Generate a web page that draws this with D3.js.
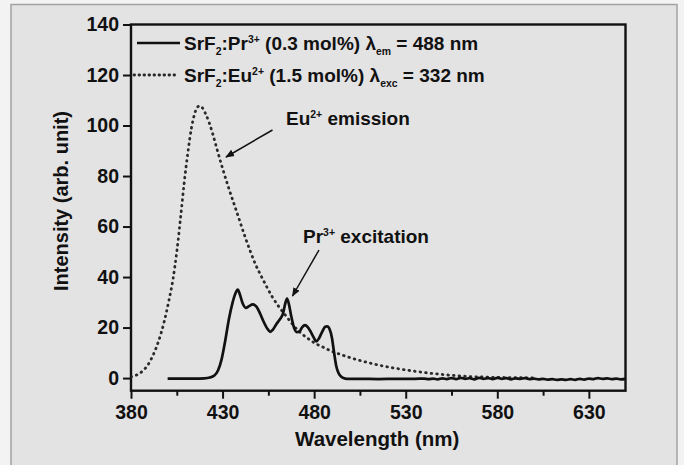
<!DOCTYPE html>
<html>
<head>
<meta charset="utf-8">
<script src="https://cdn.jsdelivr.net/npm/d3@7/dist/d3.min.js"></script>
<style>
  html, body { margin: 0; padding: 0; background: #f3f3f3; }
  svg { display: block; }
  text { font-family: "Liberation Sans", Arial, sans-serif; font-weight: bold; fill: #111; }
</style>
</head>
<body>
<svg id="chart" width="684" height="465"></svg>
<script>
// Pr3+ excitation spectrum (monitored at 488 nm)
const prWavelength = [400, 405, 410, 415, 420, 423, 425.5, 427.5, 429.5, 431.5, 433.5, 435.5, 437, 438.3, 439.5, 441, 442.7, 444.5, 446.5, 448.5, 450.5, 452.5, 454.5, 456, 457.5, 459.5, 461.5, 463, 464.2, 465.2, 466.3, 467.5, 469, 470.5, 472, 473.5, 475, 476.5, 478, 479.8, 481.2, 482.7, 484.5, 486, 487.2, 488.5, 489.7, 490.8, 492, 493.3, 494.7, 496, 498, 505, 515, 525, 535,
  540, 542.5, 545, 547.5, 550, 552.5, 555, 557.5, 560, 562.5, 565, 567.5, 570, 572.5, 575, 577.5, 580, 582.5, 585, 587.5, 590, 592.5, 595, 597.5, 600, 602.5, 605, 607.5, 610, 612.5, 615, 617.5, 620, 622.5, 625, 627.5, 630, 632.5, 635, 637.5, 640, 642.5, 645, 647.5, 650];
const prIntensity = [-0.2, -0.2, -0.2, -0.2, -0.1, 0.2, 1.0, 3.0, 7.5, 15, 23.5, 30, 33.5, 35, 33, 29.5, 27.8, 28.5, 29.2, 28.3, 25.5, 22.2, 19.5, 18.3, 19.2, 21.5, 23.5, 25.5, 29.5, 31.5, 29, 24.5, 20, 18.2, 18.5, 20.2, 21, 20.2, 18.5, 16, 14.5, 15.8, 18.5, 20.3, 20.5, 19.2, 16, 10.5, 5, 2, 0.6, 0, -0.3, -0.3, -0.4, -0.3, -0.3,
  -0.2, -0.4, -0.2, -0.5, -0.1, -0.4, 0.0, -0.4, 0.1, -0.3, 0.0, -0.5, 0.1, -0.3, 0.0, -0.4, 0.1, -0.3, 0.0, -0.5, -0.1, -0.3, 0.0, -0.4, -0.2, -0.5, -0.3, -0.6, -0.4, -0.7, -0.5, -0.7, -0.4, -0.7, -0.3, -0.6, -0.2, -0.4, 0.0, -0.3, -0.1, -0.4, -0.2, -0.5, -0.3];

// Eu2+ emission spectrum (excited at 332 nm)
const euWavelength = [380, 383, 386, 389, 392, 395, 398, 400.5, 403, 405, 407, 409, 411, 413, 414.5, 416, 417.5, 419, 420.5, 422.5, 424.5, 427, 430, 433, 436, 439, 442, 445, 448, 451, 454, 457, 460, 464, 468, 472, 476, 480, 485, 490, 495, 500, 508, 516, 525, 535, 545, 555, 565, 575, 585, 600];
const euIntensity = [0.5, 1.2, 2.6, 5.0, 9.0, 14.5, 22, 30, 39.5, 50, 63, 77, 89, 99, 104, 107, 107.8, 107, 105, 101.5, 97, 90.5, 83, 76, 69.5, 63, 56.5, 50.5, 45, 40.5, 36.3, 32.3, 29, 25.2, 21.5, 18.3, 16, 14, 12.2, 10.5, 9.2, 8.0, 6.4, 5.0, 3.8, 2.7, 1.8, 1.1, 0.6, 0.35, 0.2, 0.1];

const xTicks = [380, 430, 480, 530, 580, 630];
const xMinorTicks = [405, 455, 505, 555, 605];
const yTicks = [0, 20, 40, 60, 80, 100, 120, 140];

const svg = d3.select("#chart");
const W = 684, H = 465;
const plot = { left: 131, right: 625.5, top: 24.5, bottom: 390.7 };

// page frame
svg.append("rect").attr("x", 0).attr("y", 0).attr("width", W).attr("height", H).attr("fill", "#f3f3f3");
svg.append("rect").attr("x", 11).attr("y", 4.5).attr("width", 666).attr("height", H + 10)
  .attr("fill", "#e4e3e4").attr("stroke", "#a3a3a3").attr("stroke-width", 1.5);

const x = d3.scaleLinear().domain([380, 650]).range([plot.left, plot.right]);
const y = d3.scaleLinear().domain([-5, 140]).range([plot.bottom, plot.top]);

// axes
const xAxis = d3.axisBottom(x).tickValues(xTicks).tickSize(8).tickPadding(6).tickFormat(d3.format("d"));
svg.append("g").attr("transform", `translate(0,${plot.bottom})`).call(xAxis);
svg.append("g").attr("transform", `translate(0,${plot.bottom})`)
  .call(d3.axisBottom(x).tickValues(xMinorTicks).tickSize(5).tickFormat(""))
  .call(g => g.select(".domain").remove());

const yAxis = d3.axisLeft(y).tickValues(yTicks).tickSize(8).tickPadding(4).tickFormat(d3.format("d"));
svg.append("g").attr("transform", `translate(${plot.left},0)`).call(yAxis);

svg.selectAll(".tick line").attr("stroke", "#111").attr("stroke-width", 2);
svg.selectAll(".domain").remove();
svg.selectAll(".tick text").attr("font-size", 19.5).attr("font-family", "Liberation Sans, Arial, sans-serif")
  .attr("font-weight", "bold").attr("fill", "#111");

// plot frame
svg.append("rect").attr("x", plot.left).attr("y", plot.top)
  .attr("width", plot.right - plot.left).attr("height", plot.bottom - plot.top)
  .attr("fill", "none").attr("stroke", "#111").attr("stroke-width", 2.4);

// curves, clipped to the plot area
svg.append("clipPath").attr("id", "plotclip").append("rect")
  .attr("x", plot.left).attr("y", plot.top).attr("width", plot.right - plot.left).attr("height", plot.bottom - plot.top);

const lineGen = d3.line().x(d => x(d[0])).y(d => y(d[1])).curve(d3.curveMonotoneX);

const euData = euWavelength.map((w, i) => [w, euIntensity[i]]);
const prData = prWavelength.map((w, i) => [w, prIntensity[i]]);

const curves = svg.append("g").attr("clip-path", "url(#plotclip)");
curves.append("path").attr("d", lineGen(euData)).attr("fill", "none")
  .attr("stroke", "#2a2a2a").attr("stroke-width", 2.8).attr("stroke-dasharray", "0.6,5").attr("stroke-linecap", "round");
curves.append("path").attr("d", lineGen(prData)).attr("fill", "none")
  .attr("stroke", "#111").attr("stroke-width", 2.7).attr("stroke-linejoin", "round");

// legend
const legend = svg.append("g");
legend.append("line").attr("x1", 137).attr("x2", 180).attr("y1", 43).attr("y2", 43)
  .attr("stroke", "#111").attr("stroke-width", 2.7);
legend.append("line").attr("x1", 134).attr("x2", 177).attr("y1", 75).attr("y2", 75)
  .attr("stroke", "#2a2a2a").attr("stroke-width", 2.8).attr("stroke-dasharray", "0.6,4.4").attr("stroke-linecap", "round");

function richText(g, xPos, yPos, parts, size) {
  const t = g.append("text").attr("x", xPos).attr("y", yPos).attr("font-size", size);
  parts.forEach(p => {
    const s = t.append("tspan").text(p.t);
    if (p.sub) s.attr("font-size", size * 0.55).attr("dy", 5);
    else if (p.sup) s.attr("font-size", size * 0.55).attr("dy", -7);
    if (p.reset) s.attr("dy", p.reset);
  });
  return t;
}

richText(legend, 184, 50, [
  { t: "SrF" }, { t: "2", sub: true }, { t: ":Pr", reset: -5 }, { t: "3+", sup: true },
  { t: " (0.3 mol%) \u03BB", reset: 7 }, { t: "em", sub: true }, { t: " = 488 nm", reset: -5 }
], 19);
richText(legend, 184, 82, [
  { t: "SrF" }, { t: "2", sub: true }, { t: ":Eu", reset: -5 }, { t: "2+", sup: true },
  { t: " (1.5 mol%) \u03BB", reset: 7 }, { t: "exc", sub: true }, { t: " = 332 nm", reset: -5 }
], 19);

// annotations
svg.append("defs").append("marker").attr("id", "arrowhead")
  .attr("viewBox", "0 0 10 10").attr("refX", 9).attr("refY", 5)
  .attr("markerWidth", 9).attr("markerHeight", 9).attr("orient", "auto")
  .attr("markerUnits", "userSpaceOnUse")
  .append("path").attr("d", "M0,1 L10,5 L0,9 Z").attr("fill", "#111");

richText(svg, 286, 125, [{ t: "Eu" }, { t: "2+", sup: true }, { t: " emission", reset: 7 }], 19);
svg.append("line").attr("x1", 272.5).attr("y1", 130).attr("x2", 226).attr("y2", 157)
  .attr("stroke", "#111").attr("stroke-width", 1.5).attr("marker-end", "url(#arrowhead)");

richText(svg, 303, 243, [{ t: "Pr" }, { t: "3+", sup: true }, { t: " excitation", reset: 7 }], 19);
svg.append("line").attr("x1", 319).attr("y1", 250).attr("x2", 292.5).attr("y2", 296)
  .attr("stroke", "#111").attr("stroke-width", 1.5).attr("marker-end", "url(#arrowhead)");

// axis titles
svg.append("text").attr("x", (plot.left + plot.right) / 2 - 1).attr("y", 446)
  .attr("text-anchor", "middle").attr("font-size", 20.5).text("Wavelength (nm)");
svg.append("text").attr("transform", "translate(68,201) rotate(-90)")
  .attr("text-anchor", "middle").attr("font-size", 20).text("Intensity (arb. unit)");
</script>
</body>
</html>
